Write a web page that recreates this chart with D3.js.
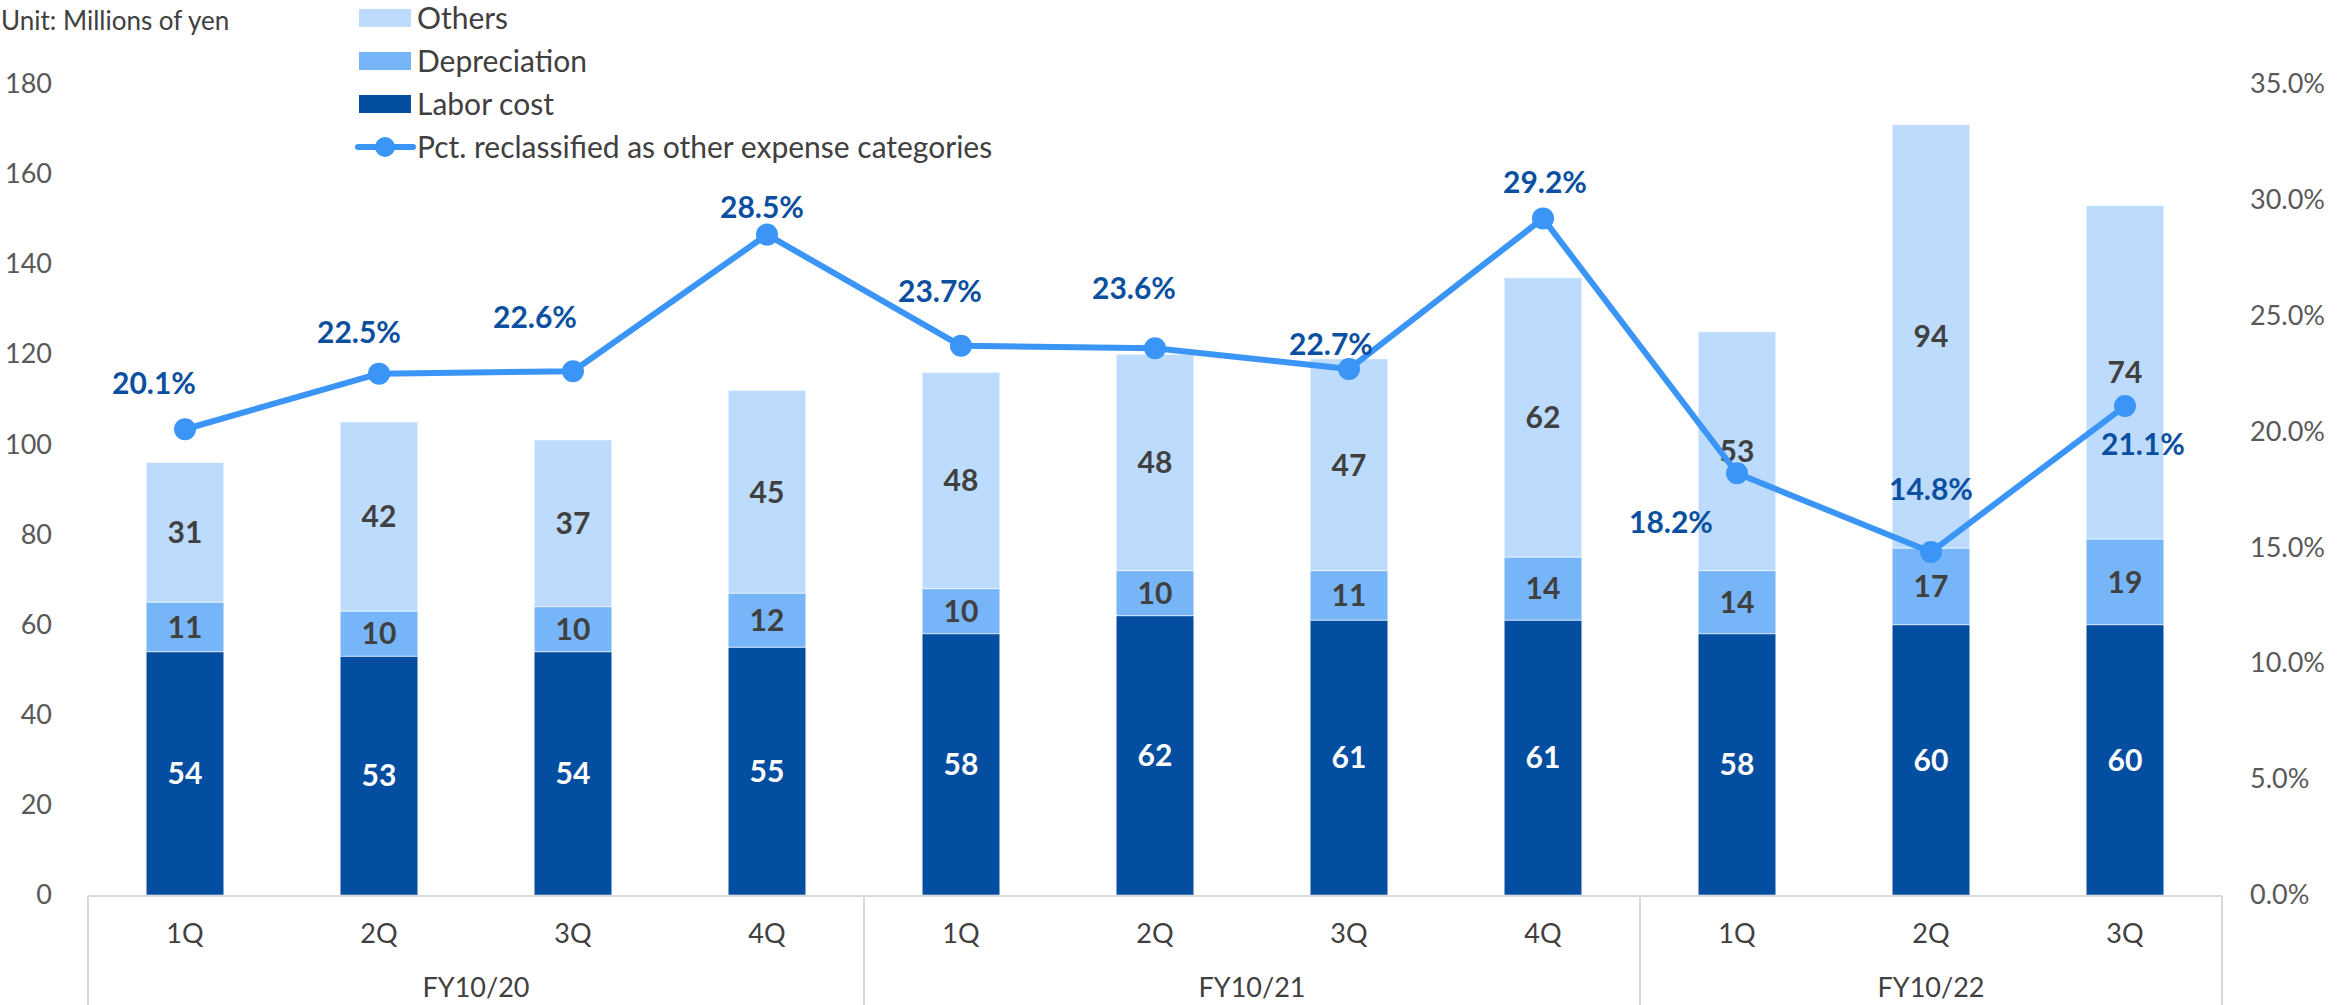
<!DOCTYPE html>
<html>
<head>
<meta charset="utf-8">
<script src="https://cdn.jsdelivr.net/npm/d3@7"></script>
<style>
  html, body { margin: 0; padding: 0; background: #fff; }
  svg { display: block; font-family: Lato, "Open Sans", sans-serif; }
</style>
</head>
<body>
<svg id="chart" width="2346" height="1005"></svg>
<script>
// Quarterly cost breakdown (millions of yen) and share reclassified to other expense lines
const quarters = ["1Q", "2Q", "3Q", "4Q", "1Q", "2Q", "3Q", "4Q", "1Q", "2Q", "3Q"];
const fiscalYears = ["FY10/20", "FY10/21", "FY10/22"];
const quartersPerYear = [4, 4, 3];
const laborCost = [54, 53, 54, 55, 58, 62, 61, 61, 58, 60, 60];
const depreciation = [11, 10, 10, 12, 10, 10, 11, 14, 14, 17, 19];
const others = [31, 42, 37, 45, 48, 48, 47, 62, 53, 94, 74];
const pctReclassified = [20.1, 22.5, 22.6, 28.5, 23.7, 23.6, 22.7, 29.2, 18.2, 14.8, 21.1];
const leftTicks = [0, 20, 40, 60, 80, 100, 120, 140, 160, 180];
const rightTicks = [0, 5, 10, 15, 20, 25, 30, 35];

// Nudges for the percentage labels relative to their markers (px)
const pctLabelNudge = [[-31, -46], [-20, -41], [-38, -54], [-5, -27], [-21, -55], [-21, -60],
                       [-18, -25], [2, -36], [-66, 49], [0, -63], [18, 38]];

const colors = {
  labor: "#044EA1",
  depreciation: "#77B5F9",
  others: "#BDDCFD",
  line: "#3A95F7",
  pctText: "#0B4FA0",
  text: "#404040",
  axis: "#D9D9D9"
};

const svg = d3.select("#chart");
const plot = { left: 88, right: 2222, top: 84, bottom: 895 };

const x = d3.scaleBand()
  .domain(d3.range(quarters.length))
  .range([plot.left, plot.right])
  .paddingInner(0.6)
  .paddingOuter(0.3);

const y = d3.scaleLinear().domain([0, 180]).range([plot.bottom, plot.top]);
const yR = d3.scaleLinear().domain([0, 35]).range([plot.bottom, plot.top]);

// Left value axis
const leftAxis = svg.append("g")
  .attr("transform", `translate(${plot.left - 36},0)`)
  .call(d3.axisLeft(y).tickValues(leftTicks).tickSize(0).tickPadding(0));
leftAxis.select(".domain").remove();
leftAxis.selectAll("text")
  .attr("font-family", "Lato, sans-serif")
  .attr("font-size", 27)
  .attr("fill", "#595959");

// Right percentage axis
const rightAxis = svg.append("g")
  .attr("transform", `translate(${plot.right + 28},0)`)
  .call(d3.axisRight(yR).tickValues(rightTicks).tickSize(0).tickPadding(0)
    .tickFormat(d => d3.format(".1f")(d) + "%"));
rightAxis.select(".domain").remove();
rightAxis.selectAll("text")
  .attr("font-family", "Lato, sans-serif")
  .attr("font-size", 27)
  .attr("fill", "#595959");

// Stacked bars
const rows = quarters.map((q, i) => ({ i, labor: laborCost[i], depreciation: depreciation[i], others: others[i] }));
const keys = ["labor", "depreciation", "others"];
const stacked = d3.stack().keys(keys)(rows);

const layers = svg.append("g").selectAll("g")
  .data(stacked)
  .join("g")
  .attr("fill", d => colors[d.key]);

layers.selectAll("rect")
  .data(d => d)
  .join("rect")
  .attr("x", d => x(d.data.i))
  .attr("width", x.bandwidth())
  .attr("y", d => y(d[1]))
  .attr("height", d => y(d[0]) - y(d[1]))
  .attr("stroke", "#ffffff")
  .attr("stroke-opacity", 0.55)
  .attr("stroke-width", 1);

// Segment value labels
const segLabels = svg.append("g")
  .attr("font-family", "Lato, sans-serif")
  .attr("font-weight", 700)
  .attr("font-size", 30)
  .attr("text-anchor", "middle");

stacked.forEach(layer => {
  segLabels.selectAll(null)
    .data(layer)
    .join("text")
    .attr("x", d => x(d.data.i) + x.bandwidth() / 2)
    .attr("y", d => y((d[0] + d[1]) / 2))
    .attr("dy", "0.36em")
    .attr("fill", layer.key === "labor" ? "#ffffff" : colors.text)
    .text(d => d[1] - d[0]);
});

// Category axis: baseline and fiscal-year separators
const axisG = svg.append("g");
axisG.append("line")
  .attr("x1", plot.left).attr("x2", plot.right)
  .attr("y1", plot.bottom + 1).attr("y2", plot.bottom + 1)
  .attr("stroke", colors.axis).attr("stroke-width", 2);

const groupBounds = [];
let start = 0;
quartersPerYear.forEach((n, k) => {
  groupBounds.push({ label: fiscalYears[k], from: start, to: start + n });
  start += n;
});
const edgeX = idx => idx === 0 ? plot.left
  : idx === quarters.length ? plot.right
  : x(idx) - x.step() * x.paddingInner() / 2;

const sepIdx = [0].concat(groupBounds.map(g => g.to));
axisG.selectAll(".sep")
  .data(sepIdx)
  .join("line")
  .attr("x1", d => edgeX(d)).attr("x2", d => edgeX(d))
  .attr("y1", plot.bottom + 1).attr("y2", 1005)
  .attr("stroke", colors.axis).attr("stroke-width", 2);

axisG.selectAll(".q")
  .data(quarters)
  .join("text")
  .attr("x", (d, i) => x(i) + x.bandwidth() / 2)
  .attr("y", 933)
  .attr("dy", "0.36em")
  .attr("text-anchor", "middle")
  .attr("font-size", 27)
  .attr("fill", "#404040")
  .text(d => d);

axisG.selectAll(".fy")
  .data(groupBounds)
  .join("text")
  .attr("x", d => (edgeX(d.from) + edgeX(d.to)) / 2)
  .attr("y", 987)
  .attr("dy", "0.36em")
  .attr("text-anchor", "middle")
  .attr("font-size", 27)
  .attr("fill", "#404040")
  .text(d => d.label);

// Percentage line with markers
const cx = i => x(i) + x.bandwidth() / 2;
const line = d3.line().x((d, i) => cx(i)).y(d => yR(d));
svg.append("path")
  .datum(pctReclassified)
  .attr("d", line)
  .attr("fill", "none")
  .attr("stroke", colors.line)
  .attr("stroke-width", 6)
  .attr("stroke-linejoin", "round");

svg.append("g").selectAll("circle")
  .data(pctReclassified)
  .join("circle")
  .attr("cx", (d, i) => cx(i))
  .attr("cy", d => yR(d))
  .attr("r", 11)
  .attr("fill", colors.line);

svg.append("g").selectAll("text")
  .data(pctReclassified)
  .join("text")
  .attr("x", (d, i) => cx(i) + pctLabelNudge[i][0])
  .attr("y", (d, i) => yR(d) + pctLabelNudge[i][1])
  .attr("dy", "0.36em")
  .attr("text-anchor", "middle")
  .attr("font-weight", 700)
  .attr("font-size", 30)
  .attr("fill", colors.pctText)
  .text(d => d3.format(".1f")(d) + "%");

// Unit caption
svg.append("text")
  .attr("x", 1).attr("y", 30)
  .attr("font-size", 26)
  .attr("fill", "#404040")
  .text("Unit: Millions of yen");

// Legend
const legendItems = [
  { label: "Others", type: "rect", color: colors.others },
  { label: "Depreciation", type: "rect", color: colors.depreciation },
  { label: "Labor cost", type: "rect", color: colors.labor },
  { label: "Pct. reclassified as other expense categories", type: "line", color: colors.line }
];
const legend = svg.append("g").attr("transform", "translate(358,18)");
const li = legend.selectAll("g")
  .data(legendItems)
  .join("g")
  .attr("transform", (d, i) => `translate(0,${i * 43})`);
li.filter(d => d.type === "rect").append("rect")
  .attr("x", 1).attr("y", -9).attr("width", 52).attr("height", 18)
  .attr("fill", d => d.color);
li.filter(d => d.type === "line").append("line")
  .attr("x1", 0).attr("x2", 55).attr("y1", 0).attr("y2", 0)
  .attr("stroke", d => d.color).attr("stroke-width", 6).attr("stroke-linecap", "round");
li.filter(d => d.type === "line").append("circle")
  .attr("cx", 27).attr("cy", 0).attr("r", 10)
  .attr("fill", d => d.color);
li.append("text")
  .attr("x", 59).attr("y", 0).attr("dy", "0.36em")
  .attr("font-size", 30)
  .attr("fill", "#404040")
  .text(d => d.label);
</script>
</body>
</html>
